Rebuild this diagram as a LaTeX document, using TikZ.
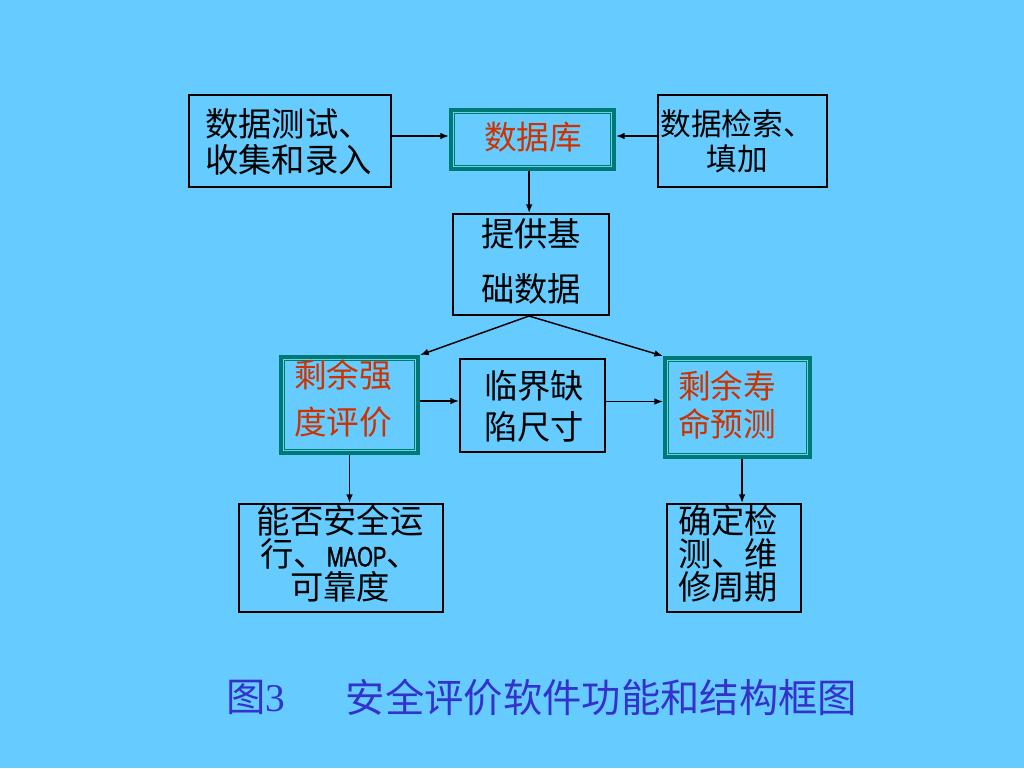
\documentclass[tikz,border=0pt]{standalone}
\usepackage{fontspec}
\setmainfont{Noto Sans CJK SC}
\newfontfamily\cjk{Noto Sans CJK SC}
\newfontfamily\serifdigit{Liberation Serif}
\newfontfamily\maopfont[FakeStretch=0.72,FakeBold=1.2]{Liberation Sans}
\usetikzlibrary{arrows.meta}
\definecolor{bgc}{HTML}{66CCFF}
\definecolor{redc}{HTML}{CC3300}
\definecolor{tealc}{HTML}{007878}
\definecolor{lightc}{HTML}{66D6DD}
\definecolor{capc}{HTML}{3333CC}
\newcommand{\innerline}[1]{\draw[lightc, line width=0.75pt] ([shift={(4.5,4.5)}]#1.north west) rectangle ([shift={(-4.5,-4.5)}]#1.south east);}
\begin{document}
\begin{tikzpicture}[x=0.75pt,y=-0.75pt,
  sbox/.style={draw=black, line width=1.5pt, inner sep=0, rectangle},
  dbox/.style={draw=tealc, line width=4.5pt, inner sep=0, rectangle},
  txt/.style={font=\cjk\fontsize{25}{#1}\selectfont, align=center, inner sep=0, text=black},
  redtxt/.style={font=\cjk\fontsize{24.5}{#1}\selectfont, align=left, inner sep=0, text=redc},
  arr/.style={draw=black, line width=1.1pt, -{Latex[length=6.5pt,width=5pt]}}]
\useasboundingbox (0,0) rectangle (1024,768);
\fill[bgc] (0,0) rectangle (1024,768);

% boxes
\node[sbox, minimum width=151.5pt, minimum height=69pt] (a) at (290,141) {};
\node[dbox, minimum width=120.75pt, minimum height=42.75pt] (b) at (532.5,139.5) {};
\innerline{b}
\node[sbox, minimum width=126.75pt, minimum height=69pt] (c) at (742.5,141) {};
\node[sbox, minimum width=117pt, minimum height=75.75pt] (d) at (531,264.5) {};
\node[dbox, minimum width=101.25pt, minimum height=70.5pt] (e) at (349.5,405) {};
\innerline{e}
\node[sbox, minimum width=108.75pt, minimum height=69.75pt] (f) at (532.5,405.5) {};
\node[dbox, minimum width=107.25pt, minimum height=72.75pt] (g) at (737.5,407.5) {};
\innerline{g}
\node[sbox, minimum width=153pt, minimum height=81pt] (h) at (341,558) {};
\node[sbox, minimum width=100.5pt, minimum height=81pt] (i) at (734,558) {};

% texts
\node[txt=27pt, align=left, anchor=west] (ta) at (205,142) {数据测试、\\收集和录入};
\node[redtxt=30pt] (tb) at (533,137) {数据库};
\node[txt=26pt, font=\cjk\fontsize{23}{26}\selectfont] (tc) at (737,141) {数据检索、\\填加};
\node[txt=41.25pt] (td) at (531,261.5) {提供基\\础数据};
\node[redtxt=35.25pt] (te) at (343,398.5) {剩余强\\度评价};
\node[txt=30.75pt] (tf) at (534,406.5) {临界缺\\陷尺寸};
\node[redtxt=28.5pt] (tg) at (727,405) {剩余寿\\命预测};
\node[txt=24.75pt] (th) at (340,553.5) {能否安全运\\行、{\maopfont\fontsize{21}{20}\selectfont MAOP}、\\可靠度};
\node[txt=24.75pt, align=left] (ti) at (728,553.5) {确定检\\测、维\\修周期};

% caption
\node[inner sep=0, text=capc, font=\cjk\fontsize{29.5}{32}\selectfont] (cap1) at (256,697) {图{\serifdigit 3}};
\node[inner sep=0, text=capc, font=\cjk\fontsize{29.5}{32}\selectfont] (cap2) at (601.5,697) {安全评价软件功能和结构框图};

% connectors
\draw[arr] ([yshift=3.75pt]a.east) -- ([yshift=3.75pt]a.east -| b.west);
\draw[arr] ([yshift=3.75pt]c.west) -- ([yshift=3.75pt]c.west -| b.east);
\draw[arr] ([xshift=-2.5pt]b.south) -- ([xshift=-2.5pt]b.south |- d.north);
\draw[arr] ([xshift=-1.5pt]d.south) -- (e.north east);
\draw[arr] ([xshift=-1.5pt]d.south) -- (g.north west);
\draw[arr] ([yshift=3pt]e.east) -- ([yshift=3pt]e.east -| f.west);
\draw[arr] ([yshift=3pt]f.east) -- ([yshift=3pt]f.east -| g.west);
\draw[arr] (e.south) -- (e.south |- h.north);
\draw[arr] ([xshift=3.4pt]g.south) -- ([xshift=3.4pt]g.south |- i.north);
\end{tikzpicture}
\end{document}
